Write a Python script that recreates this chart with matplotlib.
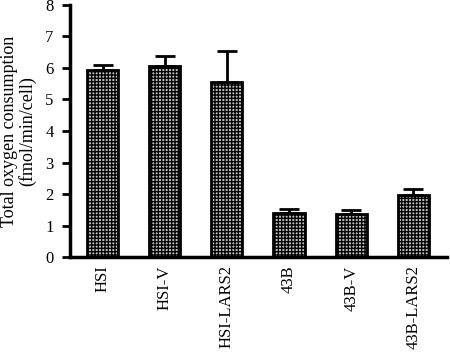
import matplotlib.pyplot as plt

groups = ['HSI', 'HSI-V', 'HSI-LARS2', '43B', '43B-V', '43B-LARS2']
oxygen = [5.95, 6.05, 5.55, 1.4, 1.37, 1.98]
err = [0.15, 0.32, 1.0, 0.12, 0.12, 0.17]

plt.rcParams['font.family'] = ['Liberation Serif', 'DejaVu Serif']
plt.rcParams['hatch.linewidth'] = 1.0
plt.rcParams['hatch.color'] = '#1a1a1a'

fig = plt.figure(figsize=(4.5, 3.55), dpi=100)
ax = fig.add_axes([0.156, 0.276, 0.837, 0.71])

x = range(len(groups))
ax.bar(x, oxygen, width=0.5, color='#c4c4c4', edgecolor='black', linewidth=2,
       hatch='+++++', yerr=[[0] * len(err), err],
       error_kw=dict(ecolor='black', elinewidth=2, capsize=7, capthick=2))

ax.set_xlim(-0.52, 5.54)
ax.set_ylim(0, 8)
ax.set_yticks(range(9))
ax.set_xticks(list(x))
ax.set_xticklabels(groups, rotation=90, fontsize=12)
ax.tick_params(axis='x', length=0, pad=6)
ax.tick_params(axis='y', direction='out', length=6, width=2, labelsize=12, pad=6)
ax.set_ylabel('Total oxygen consumption\n(fmol/min/cell)', fontsize=13,
              linespacing=1.0)
ax.yaxis.set_label_coords(-0.09, 0.5)

for s in ['top', 'right']:
    ax.spines[s].set_visible(False)
for s in ['left', 'bottom']:
    ax.spines[s].set_linewidth(2.5)

fig.savefig('out.png', dpi=100)
